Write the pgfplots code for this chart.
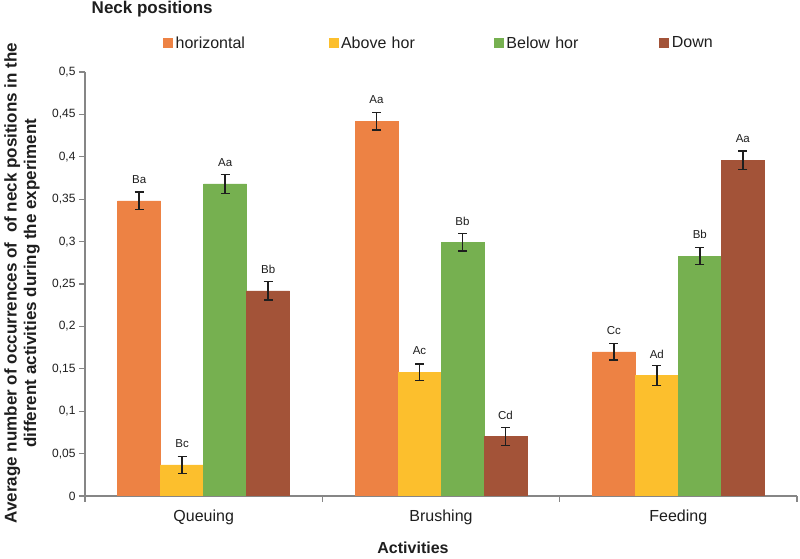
\documentclass[border=0pt]{standalone}
\usepackage{pgfplots}
\usepackage{pgfplotstable}
\pgfplotsset{compat=1.18}
\usepackage{fontspec}
\setmainfont{Liberation Sans}
\definecolor{cH}{RGB}{237,130,68}
\definecolor{cA}{RGB}{252,191,45}
\definecolor{cB}{RGB}{118,176,80}
\definecolor{cD}{RGB}{163,83,56}
\definecolor{axgray}{RGB}{134,134,134}
\definecolor{txt}{RGB}{30,30,30}

\pgfplotstableread{
x y e l
0 0.348 0.0105 Ba
1 0.442 0.0105 Aa
2 0.170 0.0095 Cc
}\horiz
\pgfplotstableread{
x y e l
0 0.0366 0.0100 Bc
1 0.146 0.0095 Ac
2 0.142 0.0120 Ad
}\above
\pgfplotstableread{
x y e l
0 0.368 0.0110 Aa
1 0.299 0.0103 Bb
2 0.283 0.0103 Bb
}\below
\pgfplotstableread{
x y e l
0 0.242 0.0110 Bb
1 0.070 0.0105 Cd
2 0.396 0.0107 Aa
}\down

\begin{document}
\begin{tikzpicture}
\useasboundingbox (-85pt,-63pt) rectangle (715pt,496pt);
\begin{axis}[
  at={(0pt,0pt)}, anchor=south west,
  scale only axis, width=712pt, height=424pt,
  ybar=0pt, bar width=43pt,
  xmin=-0.5, xmax=2.5, ymin=0, ymax=0.5,
  xtick={0,1,2}, xticklabels={Queuing,Brushing,Feeding},
  minor xtick={-0.5,0.5,1.5,2.5},
  ytick={0,0.05,0.1,0.15,0.2,0.25,0.3,0.35,0.4,0.45,0.5},
  axis x line*=bottom, axis y line*=left,
  axis line style={draw=axgray, line width=1.3pt},
  tick align=outside,
  major tick length=6pt, minor tick length=6pt,
  tick style={draw=axgray, line width=1.1pt},
  major x tick style={draw=none},
  /pgf/number format/.cd, use comma, fixed, precision=2, assume math mode=true,
  /pgfplots/.cd,
  yticklabel style={font=\fontsize{12}{14}\selectfont, text=txt},
  xticklabel style={font=\fontsize{16}{19}\selectfont, text=txt, yshift=-4pt},
  xlabel={Activities},
  ylabel={Average number of occurrences of\ \ of neck positions in the\\different activities during the experiment},
  every axis x label/.style={at={(axis description cs:0.4607,-0.1226)}, anchor=center, font=\bfseries\fontsize{16}{19}\selectfont, text=txt},
  every axis y label/.style={at={(axis description cs:-0.0885,0.502)}, rotate=90, anchor=center, align=center, font=\bfseries\fontsize{17}{19.5}\selectfont, text=txt},
  title={Neck positions},
  every axis title/.style={at={(axis description cs:0.0045,1.1486)}, anchor=west, font=\bfseries\fontsize{17}{20}\selectfont, text=txt},
  legend columns=4,
  legend image code/.code={\fill[#1] (0pt,-4.5pt) rectangle (9pt,4.5pt);},
  legend style={at={(axis description cs:0.1096,1.0684)}, anchor=west, draw=none, fill=none, inner sep=0pt,
    font=\fontsize{16}{19}\selectfont, text=txt,
    /tikz/every odd column/.style={column sep=3pt},
    nodes={inner sep=0pt, text width=153pt, align=left}},
  point meta=explicit symbolic,
  nodes near coords,
  every node near coord/.append style={font=\fontsize{11.5}{13}\selectfont, text=txt, yshift=15pt, inner sep=2pt},
  error bars/error bar style={line width=1.4pt, draw=txt},
  error bars/error mark options={rotate=90, mark size=4.5pt, line width=1.4pt, draw=txt},
]
\addplot[fill=cH, draw=cH, error bars/.cd, y dir=both, y explicit] table[x=x, y=y, y error=e, meta=l]{\horiz};
\addlegendentry{horizontal}
\addplot[fill=cA, draw=cA, error bars/.cd, y dir=both, y explicit] table[x=x, y=y, y error=e, meta=l]{\above};
\addlegendentry{Above hor}
\addplot[fill=cB, draw=cB, error bars/.cd, y dir=both, y explicit] table[x=x, y=y, y error=e, meta=l]{\below};
\addlegendentry{Below hor}
\addplot[fill=cD, draw=cD, error bars/.cd, y dir=both, y explicit] table[x=x, y=y, y error=e, meta=l]{\down};
\addlegendentry{Down}
\end{axis}
\end{tikzpicture}
\end{document}
